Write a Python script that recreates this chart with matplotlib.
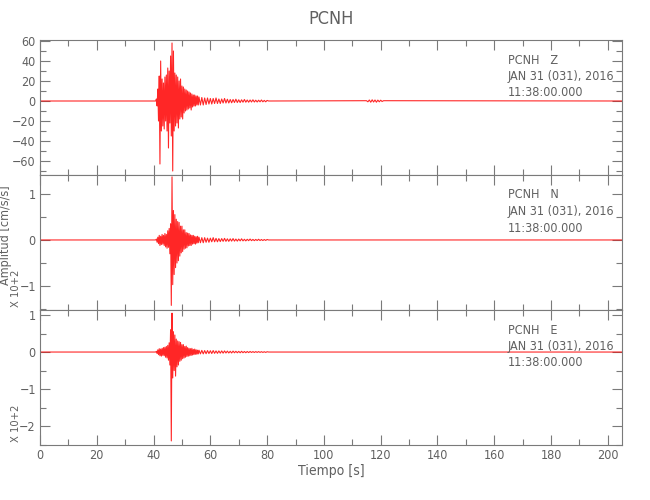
import numpy as np
import matplotlib
matplotlib.use('Agg')
import matplotlib.pyplot as plt
from matplotlib.ticker import MultipleLocator

plt.rcParams['font.family'] = ['DejaVu Sans']
plt.rcParams['font.stretch'] = 'condensed'
plt.rcParams['font.weight'] = 'light'

station = 'PCNH'
components = ['Z', 'N', 'E']
date_txt = 'JAN 31 (031), 2016'
time_txt = '11:38:00.000'

# burst: samples every 0.25 s starting at 41.0 s
burst_t0 = 41.0
burst_dt = 0.25
# coda: samples every 0.5 s starting at 56.5 s
coda_t0 = 56.5
coda_dt = 0.5

z_burst = [2, -5, 12, -20, 25, -63, 40, -30, 22, -25, 18, -28, 24, -20, 26, -30,
           33, -47, 30, -22, 45, -35, 58, -70, 50, -30, 28, -25, 26, -22, 24, -27,
           20, -18, 22, -16, 15, -18, 14, -12, 12, -10, 11, -9, 10, -8, 9, -7,
           8, -9, 7, -6, 6, -5, 6, -5, 5, -4, 5, -4, 4]
z_coda = [-4, 3.5, -4, 3, -3.5, 3, -3, 2.5, -3, 2.5, -2.5, 3, -2.5, 2, -2.5, 2,
          -2, 2.5, -2, 1.8, -2, 1.5, -1.8, 1.5, -1.5, 1.8, -1.5, 1.2, -1.5, 1.2,
          -1.2, 1.5, -1.2, 1, -1.2, 1, -1, 1.2, -1, 0.8, -1, 0.8, -0.8, 1, -0.8,
          0.6, -0.8, 0.6]

n_burst = [0.02, -0.05, 0.06, -0.08, 0.10, -0.12, 0.08, -0.10, 0.12, -0.09, 0.10,
           -0.12, 0.14, -0.15, 0.12, -0.18, 0.20, -0.16, 0.25, -0.30, 0.35, -1.42,
           1.37, -0.97, 0.64, -0.75, 0.55, -0.60, 0.45, -0.50, 0.40, -0.45, 0.38,
           -0.35, 0.30, -0.28, 0.30, -0.25, 0.22, -0.20, 0.22, -0.18, 0.16, -0.17,
           0.15, -0.13, 0.14, -0.12, 0.11, -0.12, 0.10, -0.09, 0.10, -0.08, 0.08,
           -0.09, 0.07, -0.07, 0.08, -0.06, 0.06]
n_coda = [-0.06, 0.05, -0.06, 0.05, -0.05, 0.04, -0.05, 0.04, -0.04, 0.05, -0.04,
          0.035, -0.04, 0.03, -0.035, 0.03, -0.03, 0.035, -0.03, 0.025, -0.03,
          0.025, -0.025, 0.03, -0.025, 0.02, -0.025, 0.02, -0.02, 0.025, -0.02,
          0.015, -0.02, 0.015, -0.015, 0.02, -0.015, 0.012, -0.015, 0.012, -0.012,
          0.015, -0.012, 0.01, -0.012, 0.01, -0.01, 0.01]

e_burst = [0.02, -0.04, 0.06, -0.07, 0.09, -0.10, 0.08, -0.11, 0.10, -0.09, 0.12,
           -0.10, 0.13, -0.14, 0.15, -0.16, 0.18, -0.22, 0.25, -0.35, 0.60, -2.40,
           1.05, -0.70, 0.55, -0.50, 0.46, -0.65, 0.35, -0.40, 0.30, -0.35, 0.28,
           -0.25, 0.26, -0.22, 0.20, -0.18, 0.20, -0.16, 0.15, -0.14, 0.16, -0.12,
           0.12, -0.11, 0.10, -0.10, 0.09, -0.09, 0.10, -0.08, 0.07, -0.07, 0.08,
           -0.06, 0.06, -0.06, 0.05, -0.05, 0.05]
e_coda = [-0.05, 0.045, -0.05, 0.04, -0.045, 0.04, -0.04, 0.035, -0.04, 0.04,
          -0.035, 0.03, -0.035, 0.03, -0.03, 0.03, -0.03, 0.03, -0.025, 0.025,
          -0.025, 0.02, -0.025, 0.025, -0.02, 0.02, -0.02, 0.018, -0.02, 0.02,
          -0.018, 0.015, -0.018, 0.015, -0.015, 0.015, -0.012, 0.012, -0.012,
          0.012, -0.01, 0.012, -0.01, 0.01, -0.01, 0.008, -0.01, 0.008]

# small wavelet near 117 s on Z (0.5 s steps)
z_late_t = [115, 115.5, 116, 116.5, 117, 117.5, 118, 118.5, 119, 119.5, 120, 120.5, 121]
z_late = [0.3, -0.8, 1.0, -1.2, 1.2, -1.0, 1.0, -1.2, 0.9, -0.8, 0.8, -0.5, 0.3]

bursts = [z_burst, n_burst, e_burst]
codas = [z_coda, n_coda, e_coda]
ylims = [(-74, 61), (-1.52, 1.41), (-2.51, 1.135)]
majors = [20, 1, 1]
minors = [10, 0.5, 0.5]

grey = '#606060'
spine_col = '#7a7a7a'

fig = plt.figure(figsize=(6.5, 5), dpi=100)
left, width = 40 / 650, 582 / 650
bottoms = [0.65, 0.38, 0.11]
axes = [fig.add_axes([left, b, width, 0.27]) for b in bottoms]

for i, ax in enumerate(axes):
    tb = burst_t0 + burst_dt * np.arange(len(bursts[i]))
    tc = coda_t0 + coda_dt * np.arange(len(codas[i]))
    t = np.concatenate([[0.0, burst_t0 - burst_dt], tb, tc, [tc[-1] + coda_dt, 205.0]])
    y = np.concatenate([[0.0, 0.0], bursts[i], codas[i], [0.0, 0.0]])
    if i == 0:
        keep = t < z_late_t[0]
        t = np.concatenate([t[keep], z_late_t, [205.0]])
        y = np.concatenate([y[keep], z_late, [0.0]])
    ax.plot(t, y, color='red', lw=0.8, alpha=0.85)

    ax.set_xlim(0, 205)
    ax.set_ylim(*ylims[i])
    ax.xaxis.set_major_locator(MultipleLocator(20))
    ax.xaxis.set_minor_locator(MultipleLocator(10))
    ax.yaxis.set_major_locator(MultipleLocator(majors[i]))
    ax.yaxis.set_minor_locator(MultipleLocator(minors[i]))
    ax.tick_params(which='both', direction='in', top=True, right=True,
                   color=spine_col, labelcolor=grey, labelsize=9, width=0.8, pad=3)
    ax.tick_params(which='major', length=7)
    ax.tick_params(which='minor', length=4)
    for s in ax.spines.values():
        s.set_color(spine_col)
        s.set_linewidth(0.8)
    if i < 2:
        ax.tick_params(labelbottom=False)

    ax.text(0.804, 0.90, f'{station}   {components[i]}\n{date_txt}\n{time_txt}',
            transform=ax.transAxes, ha='left', va='top', fontsize=9,
            color=grey, linespacing=1.35)
    if i > 0:
        ax.text(-0.042, 0.02, 'X 10+2', transform=ax.transAxes, rotation=90,
                ha='center', va='bottom', fontsize=8, color=grey)

axes[-1].set_xlabel('Tiempo [s]', color=grey, fontsize=10, labelpad=1)
fig.text(0.009, 0.53, 'Amplitud [cm/s/s]', rotation=90, ha='center', va='center',
         fontsize=9, color=grey)
fig.text(0.509, 0.962, station, ha='center', va='center', fontsize=13, color=grey)

fig.savefig('out.png', dpi=100)
